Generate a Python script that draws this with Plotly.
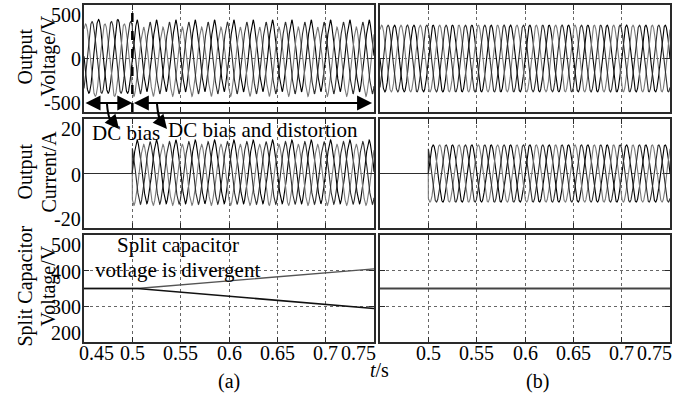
import numpy as np
import plotly.graph_objects as go

W, H = 693, 397
FONT = "Liberation Serif"
FS_TICK = 20
FS_TEXT = 21

# ---------------- data ----------------
T_START, T_SWITCH, T_END = 0.45, 0.5, 0.75
FREQ_HZ = 50
PHASE_DEG = [0, -120, 120]
PHASE_COLORS = ["#000000", "#7a7a7a", "#2e2e2e"]

# (a) output voltage: DC biased before 0.5 s, biased and distorted after
VA_AMP_PRE = [345, 338, 335]
VA_DC_PRE = [20, -15, 10]
VA_AMP_POST = [318, 310, 320]
VA_DC_POST = [25, -30, 5]
VA_H5_POST = [18, 14, 16]
# (b) output voltage
VB_AMP = [312, 312, 312]

# output currents (zero until the load is switched in at 0.5 s)
IA_AMP = [11.2, 10.8, 11.0]
IA_DC = [0.6, -0.5, 0.2]
IA_H5 = [0.5, 0.4, 0.5]
IB_AMP = [10.5, 10.5, 10.5]

# split capacitor voltages
CAP_A_T = [0.45, 0.505, 0.75]
CAP_A_UPPER = [350, 350, 405]
CAP_A_LOWER = [350, 350, 294]
CAP_B_T = [0.45, 0.75]
CAP_B = [350, 350]

# tick values and labels
X_TICKS_A = [0.45, 0.5, 0.55, 0.6, 0.65, 0.7, 0.75]
X_TEXT_A = ["0.45", "0.5", "0.55", "0.6", "0.65", "0.7", "0.75"]
X_TICKS_B = [0.5, 0.55, 0.6, 0.65, 0.7, 0.75]
X_TEXT_B = ["0.5", "0.55", "0.6", "0.65", "0.7", "0.75"]
Y_TICKS = {1: [-500, 0, 500], 2: [-20, 0, 20], 3: [200, 300, 400, 500]}
Y_TEXT = {1: ["-500", "0", "500"], 2: ["-20", "0", "20"], 3: ["200", "300", "400", "500"]}
Y_RANGE = {1: [-500, 500], 2: [-20, 20], 3: [200, 500]}
Y_TITLES = {1: ("Output", "Voltage/V"), 2: ("Output", "Current/A"), 3: ("Split Capacitor", "Voltage/V")}

# ---------------- signals ----------------
t = np.linspace(T_START, T_END, 4001)
w = 2 * np.pi * FREQ_HZ


def phase_wave(amp, dc, h5, deg):
    ang = w * t + np.deg2rad(deg)
    return dc + amp * np.sin(ang) + h5 * np.sin(5 * ang)


va = [np.where(t < T_SWITCH,
               phase_wave(VA_AMP_PRE[i], VA_DC_PRE[i], 0, PHASE_DEG[i]),
               phase_wave(VA_AMP_POST[i], VA_DC_POST[i], VA_H5_POST[i], PHASE_DEG[i]))
      for i in range(3)]
vb = [phase_wave(VB_AMP[i], 0, 0, PHASE_DEG[i]) for i in range(3)]
ia = [np.where(t < T_SWITCH, 0.0, phase_wave(IA_AMP[i], IA_DC[i], IA_H5[i], PHASE_DEG[i])) for i in range(3)]
ib = [np.where(t < T_SWITCH, 0.0, phase_wave(IB_AMP[i], 0, 0, PHASE_DEG[i])) for i in range(3)]

# ---------------- layout geometry (pixels) ----------------
COL_PX = {1: (84, 374), 2: (380, 670)}
ROW_PX = {1: (5, 112), 2: (119, 228), 3: (235, 342)}


def px(x, y):
    return x / W, 1 - y / H


def ak(r, c):
    return (r - 1) * 2 + c


def xname(k):
    return "x" if k == 1 else f"x{k}"


def yname(k):
    return "y" if k == 1 else f"y{k}"


fig = go.Figure()


def add_lines(r, c, xs, ys_list, colors, width=1.1):
    k = ak(r, c)
    for ys, col in zip(ys_list, colors):
        fig.add_trace(go.Scatter(x=xs, y=ys, mode="lines", line=dict(color=col, width=width),
                                 xaxis=xname(k), yaxis=yname(k), showlegend=False,
                                 hoverinfo="skip"))


add_lines(1, 1, t, va, PHASE_COLORS)
add_lines(1, 2, t, vb, PHASE_COLORS)
add_lines(2, 1, t, ia, PHASE_COLORS)
add_lines(2, 2, t, ib, PHASE_COLORS)
add_lines(3, 1, CAP_A_T, [CAP_A_UPPER], ["#555555"], 1.4)
add_lines(3, 1, CAP_A_T, [CAP_A_LOWER], ["#111111"], 1.6)
add_lines(3, 2, CAP_B_T, [CAP_B], ["#444444"], 1.8)

layout = dict(width=W, height=H, margin=dict(l=0, r=0, t=0, b=0),
              paper_bgcolor="white", plot_bgcolor="white", showlegend=False)

axis_common = dict(showline=True, linecolor="#2a2a2a", linewidth=1.8, mirror="ticks",
                   ticks="inside", ticklen=5, tickcolor="#2a2a2a", tickwidth=1.2,
                   showgrid=True, gridcolor="#666666", griddash="dot", gridwidth=1,
                   zeroline=False, showticklabels=False)

annotations = []
for r in (1, 2, 3):
    for c in (1, 2):
        k = ak(r, c)
        x0, x1 = COL_PX[c]
        y0, y1 = ROW_PX[r]
        xa = dict(axis_common, domain=[x0 / W, x1 / W], range=[T_START, T_END],
                  tickvals=X_TICKS_A, anchor=yname(k))
        ya = dict(axis_common, domain=[1 - y1 / H, 1 - y0 / H], range=Y_RANGE[r],
                  tickvals=Y_TICKS[r], anchor=xname(k))
        layout["xaxis" if k == 1 else f"xaxis{k}"] = xa
        layout["yaxis" if k == 1 else f"yaxis{k}"] = ya

        # y tick labels on the left column
        if c == 1:
            n = len(Y_TICKS[r])
            for j, (v, txt) in enumerate(zip(Y_TICKS[r], Y_TEXT[r])):
                if j == 0:
                    anc, sh = "bottom", -4
                elif j == n - 1:
                    anc, sh = "top", 3
                else:
                    anc, sh = "middle", -1
                annotations.append(dict(x=(x0 - 1) / W, xref="paper", xanchor="right",
                                        y=v, yref=yname(k), yanchor=anc, yshift=sh,
                                        text=txt, showarrow=False,
                                        font=dict(family=FONT, size=FS_TICK, color="black")))
        # x tick labels on the bottom row
        if r == 3:
            vals, texts = (X_TICKS_A, X_TEXT_A) if c == 1 else (X_TICKS_B, X_TEXT_B)
            n = len(vals)
            for j, (v, txt) in enumerate(zip(vals, texts)):
                anc = "center"
                if c == 1 and j == 0:
                    anc = "left"
                if j == n - 1:
                    anc = "right"
                annotations.append(dict(x=v, xref=xname(k), xanchor=anc,
                                        xshift=(-7 if c == 1 and j == 0 else (4 if j == n - 1 else 0)),
                                        y=1 - y1 / H, yref="paper", yanchor="top", yshift=2,
                                        text=txt, showarrow=False,
                                        font=dict(family=FONT, size=FS_TICK, color="black")))

# y-axis titles (two rotated lines each)
for r in (1, 2, 3):
    y0, y1 = ROW_PX[r]
    yc = (y0 + y1) / 2
    l1, l2 = Y_TITLES[r]
    for txt, xc in ((l1, 25), (l2, 48)):
        annotations.append(dict(x=xc / W, y=1 - (yc - 2) / H, xref="paper", yref="paper",
                                xanchor="center", yanchor="middle", textangle=-90,
                                text=txt, showarrow=False,
                                font=dict(family=FONT, size=FS_TICK, color="black")))

# double arrows along the bottom of the voltage plot
for (ta, tb) in ((T_START, T_SWITCH), (T_SWITCH, 0.748)):
    annotations.append(dict(x=tb, y=-415, ax=ta, ay=-415, xref="x", yref="y", axref="x", ayref="y",
                            text="", showarrow=True, arrowside="end+start", arrowhead=2,
                            arrowsize=1.5, arrowwidth=2, arrowcolor="black"))

# arrowheads for the curved pointers
for hx, hy in ((119, 129), (167, 129)):
    hxp, hyp = px(hx, hy)
    annotations.append(dict(x=hxp, y=hyp, xref="paper", yref="paper", text="", showarrow=True,
                            ax=-5, ay=-6, arrowhead=2, arrowsize=1.4, arrowwidth=2,
                            arrowcolor="black"))


# text labels
def label(txt, xc, yc, size=FS_TEXT, **kw):
    xp, yp = px(xc, yc)
    annotations.append(dict(x=xp, y=yp, xref="paper", yref="paper", xanchor="center",
                            yanchor="middle", text=txt, showarrow=False,
                            font=dict(family=FONT, size=size, color="black"), **kw))


label("DC bias", 126, 133)
label("DC bias and distortion", 263, 130)
label("Split capacitor", 178, 245)
label("votlage is divergent", 177, 270)
label("<i>t</i>/s", 379, 370, size=FS_TICK)
label("(a)", 229, 381, size=FS_TICK)
label("(b)", 537, 381, size=FS_TICK)

layout["annotations"] = annotations

# curved pointer stems and the switching marker
shapes = []
for (sx, sy, c1x, c1y, c2x, c2y, ex, ey) in ((107, 104, 108, 117, 110, 122, 116, 126),
                                             (157, 104, 158, 117, 160, 122, 164, 126)):
    pts = [px(sx, sy), px(c1x, c1y), px(c2x, c2y), px(ex, ey)]
    path = "M {} {} C {} {}, {} {}, {} {}".format(*[v for p in pts for v in p])
    shapes.append(dict(type="path", path=path, xref="paper", yref="paper",
                       line=dict(color="black", width=2)))
shapes.append(dict(type="line", x0=T_SWITCH, x1=T_SWITCH, y0=-500, y1=500, xref="x", yref="y",
                   line=dict(color="black", width=2.5, dash="dash")))
layout["shapes"] = shapes

fig.update_layout(**layout)
fig.write_html("out.html")
